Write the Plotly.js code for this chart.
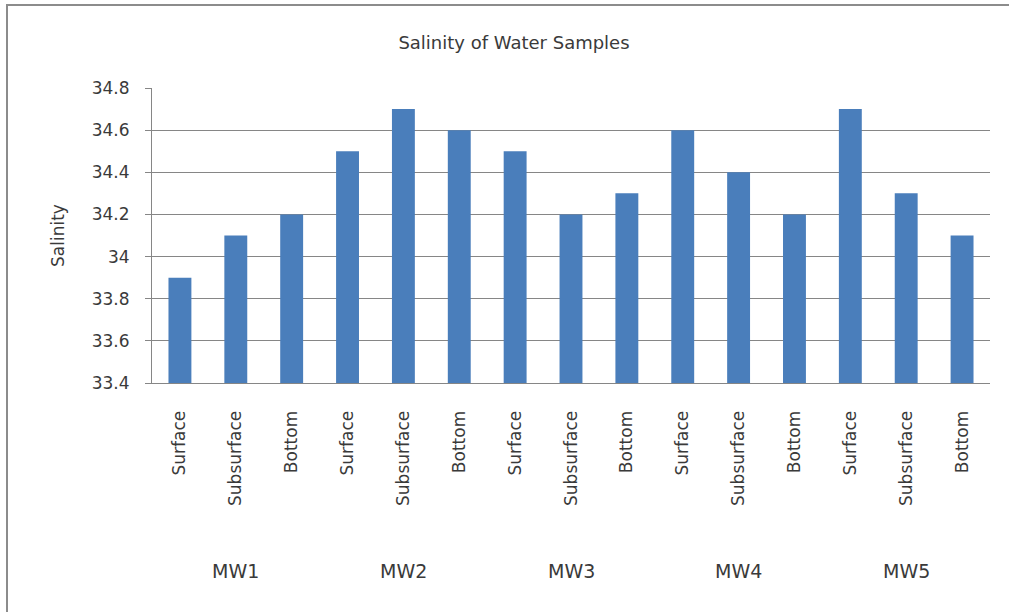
<!DOCTYPE html>
<html>
<head>
<meta charset="utf-8">
<script src="https://cdn.plot.ly/plotly-3.0.1.min.js"></script>
<style>
  html, body { margin: 0; padding: 0; background: #fff; }
  #chart { width: 1009px; height: 612px; }
</style>
</head>
<body>
<div id="chart"></div>
<script>
const depths = ['Surface', 'Subsurface', 'Bottom', 'Surface', 'Subsurface', 'Bottom',
  'Surface', 'Subsurface', 'Bottom', 'Surface', 'Subsurface', 'Bottom',
  'Surface', 'Subsurface', 'Bottom'];
const stations = ['MW1', 'MW2', 'MW3', 'MW4', 'MW5'];
const salinity = [33.9, 34.1, 34.2, 34.5, 34.7, 34.6, 34.5, 34.2, 34.3,
  34.6, 34.4, 34.2, 34.7, 34.3, 34.1];

const FONT = 'DejaVu Sans, sans-serif';
const TEXT = '#3a3a3a';
const positions = depths.map((d, i) => i);

const trace = {
  type: 'bar',
  x: positions,
  y: salinity,
  width: 0.41,
  marker: { color: '#4a7ebb' },
  hoverinfo: 'y',
};

// plot area box in pixels, used to put the outer frame around everything
const L = 152, R = 19, T = 88, B = 229, W = 1009, H = 612;
const pw = W - L - R, ph = H - T - B;

const stationLabels = stations.map((s, i) => ({
  text: s,
  x: i * 3 + 1,
  xref: 'x',
  y: (H - B - 571) / ph,
  yref: 'paper',
  yanchor: 'middle',
  showarrow: false,
  font: { family: FONT, size: 19, color: TEXT },
}));

const layout = {
  width: W,
  height: H,
  margin: { l: L, r: R, t: T, b: B },
  paper_bgcolor: '#fff',
  plot_bgcolor: '#fff',
  showlegend: false,
  title: {
    text: 'Salinity of Water Samples',
    font: { family: FONT, size: 18, color: TEXT },
    x: 514 / W,
    xanchor: 'center',
    y: 1 - 43 / H,
    yanchor: 'middle',
  },
  xaxis: {
    range: [-0.5, 14.5],
    tickmode: 'array',
    tickvals: positions,
    ticktext: depths,
    tickangle: -90,
    ticks: '',
    showgrid: false,
    zeroline: false,
    showline: true,
    linecolor: '#868686',
    linewidth: 1,
    tickfont: { family: FONT, size: 17, color: TEXT },
    ticklabelstandoff: 20,
  },
  yaxis: {
    range: [33.4, 34.8],
    tickmode: 'linear',
    tick0: 33.4,
    dtick: 0.2,
    ticks: 'outside',
    ticklen: 6,
    tickcolor: '#868686',
    showgrid: true,
    gridcolor: '#868686',
    gridwidth: 1,
    zeroline: false,
    showline: true,
    linecolor: '#868686',
    tickfont: { family: FONT, size: 17, color: TEXT },
    ticklabelstandoff: 12,
    title: {
      text: 'Salinity',
      font: { family: FONT, size: 17, color: TEXT },
      standoff: 22,
    },
  },
  annotations: stationLabels,
  shapes: [{
    type: 'rect',
    xref: 'paper',
    yref: 'paper',
    x0: (7 - L) / pw,
    x1: (1040 - L) / pw,
    y0: (H - B - 640) / ph,
    y1: (H - B - 5) / ph,
    line: { color: '#8c8c8c', width: 2 },
    layer: 'below',
  }],
};

Plotly.newPlot('chart', [trace], layout, { displayModeBar: false, staticPlot: true });
</script>
</body>
</html>
